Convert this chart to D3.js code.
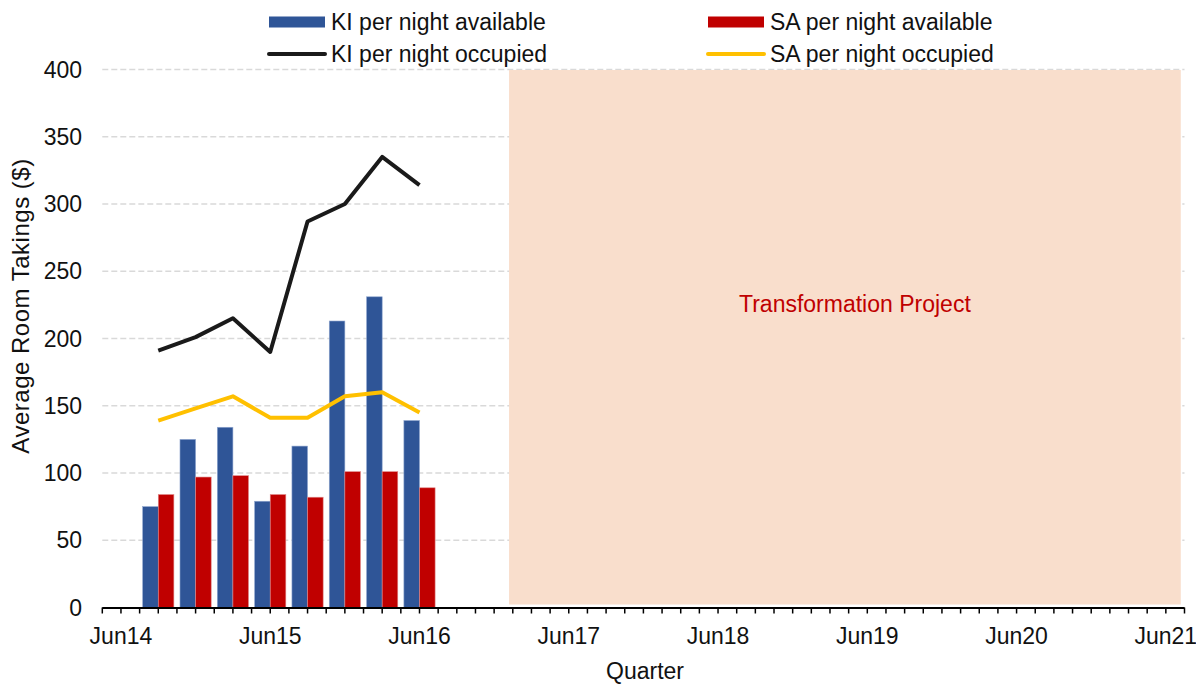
<!DOCTYPE html>
<html>
<head>
<meta charset="utf-8">
<script src="https://cdn.jsdelivr.net/npm/d3@7"></script>
<style>
  html, body { margin: 0; padding: 0; background: #fff; }
  svg { display: block; font-family: "Liberation Sans", Arial, sans-serif; }
</style>
</head>
<body>
<svg id="chart" width="1196" height="684"></svg>
<script>
// ---- data ----
const quarters = ["Sep14","Dec14","Mar15","Jun15","Sep15","Dec15","Mar16","Jun16"];
const quarterIndex = [1,2,3,4,5,6,7,8];           // quarters after Jun14
const kiAvailable = [75,125,134,79,120,213,231,139];
const saAvailable = [84,97,98,84,82,101,101,89];
const kiOccupied  = [191,201,215,190,287,300,335,314];
const saOccupied  = [139,148,157,141,141,157,160,145];
const tickLabels  = ["Jun14","Jun15","Jun16","Jun17","Jun18","Jun19","Jun20","Jun21"];
const tickIndex   = [0,4,8,12,16,20,24,28];
const yTicks      = [0,50,100,150,200,250,300,350,400];
const project     = { label: "Transformation Project", start: 10.4, end: 28.4, top: 400 };
const seriesNames = ["KI per night available","SA per night available","KI per night occupied","SA per night occupied"];
const colors = { ki: "#2F5597", sa: "#C00000", kiLine: "#1a1a1a", saLine: "#FFC000" };

const FS = 23;
const svg = d3.select("#chart");
const x = d3.scaleLinear().domain([-0.5, 28.5]).range([102.3, 1184.5]);
const y = d3.scaleLinear().domain([0, 400]).range([607.5, 69.5]);
const barW = 15.6;

// gridlines
svg.append("g").selectAll("line").data(yTicks.filter(d => d > 0)).join("line")
  .attr("x1", x(-0.5)).attr("x2", x(28.5))
  .attr("y1", d => y(d)).attr("y2", d => y(d))
  .attr("stroke", "#d9d9d9").attr("stroke-width", 1.3).attr("stroke-dasharray", "6,3");

// project shading
svg.append("rect")
  .attr("x", x(project.start)).attr("width", x(project.end) - x(project.start))
  .attr("y", y(project.top) + 0.5).attr("height", y(0) - y(project.top) - 3.5)
  .attr("fill", "#F9DECC");
svg.append("text")
  .attr("x", x((project.start + project.end) / 2) + 10).attr("y", y(226))
  .attr("text-anchor", "middle").attr("dominant-baseline", "central")
  .attr("font-size", FS).attr("fill", "#C00000").text(project.label);

// bars
const bars = svg.append("g");
bars.selectAll("rect.ki").data(kiAvailable).join("rect").attr("class", "ki")
  .attr("x", (d, i) => x(quarterIndex[i]) - barW).attr("width", barW)
  .attr("y", d => y(d)).attr("height", d => y(0) - y(d))
  .attr("fill", colors.ki).attr("stroke", "#8fa6cf").attr("stroke-width", 0.6);
bars.selectAll("rect.sa").data(saAvailable).join("rect").attr("class", "sa")
  .attr("x", (d, i) => x(quarterIndex[i])).attr("width", barW)
  .attr("y", d => y(d)).attr("height", d => y(0) - y(d))
  .attr("fill", colors.sa).attr("stroke", "#e08a8a").attr("stroke-width", 0.6);

// lines
const line = d3.line().x((d, i) => x(quarterIndex[i])).y(d => y(d));
svg.append("path").datum(saOccupied).attr("d", line)
  .attr("fill", "none").attr("stroke", colors.saLine).attr("stroke-width", 4).attr("stroke-linejoin", "round");
svg.append("path").datum(kiOccupied).attr("d", line)
  .attr("fill", "none").attr("stroke", colors.kiLine).attr("stroke-width", 4).attr("stroke-linejoin", "round");

// x axis
const xAxis = svg.append("g");
xAxis.append("line").attr("x1", x(-0.5)).attr("x2", x(28.5))
  .attr("y1", y(0) + 0.5).attr("y2", y(0) + 0.5).attr("stroke", "#000").attr("stroke-width", 2);
const minorTicks = d3.range(-0.5, 28.51, 0.5);
xAxis.selectAll("line.t").data(minorTicks).join("line").attr("class", "t")
  .attr("x1", d => x(d)).attr("x2", d => x(d))
  .attr("y1", y(0)).attr("y2", y(0) + 6).attr("stroke", "#000").attr("stroke-width", 1.5);
xAxis.selectAll("text").data(tickLabels).join("text")
  .attr("x", (d, i) => x(tickIndex[i])).attr("y", 644)
  .attr("text-anchor", "middle").attr("font-size", FS).attr("fill", "#111").text(d => d);

// y labels
svg.append("g").selectAll("text").data(yTicks).join("text")
  .attr("x", 82).attr("y", d => y(d)).attr("dominant-baseline", "central")
  .attr("text-anchor", "end").attr("font-size", FS).attr("fill", "#111").text(d => d);

// axis titles
svg.append("text").attr("transform", "translate(29,306) rotate(-90)")
  .attr("text-anchor", "middle").attr("font-size", 24).attr("letter-spacing", 0.5).attr("fill", "#111")
  .text("Average Room Takings ($)");
svg.append("text").attr("x", 645).attr("y", 679)
  .attr("text-anchor", "middle").attr("font-size", FS).attr("fill", "#111").text("Quarter");

// legend
const legend = svg.append("g");
const legItems = [
  { name: seriesNames[0], type: "bar", color: colors.ki, x: 269, y: 22 },
  { name: seriesNames[1], type: "bar", color: colors.sa, x: 708, y: 22 },
  { name: seriesNames[2], type: "line", color: colors.kiLine, x: 269, y: 54 },
  { name: seriesNames[3], type: "line", color: colors.saLine, x: 708, y: 54 }
];
legItems.forEach(it => {
  if (it.type === "bar") {
    legend.append("rect").attr("x", it.x).attr("y", it.y - 5.5).attr("width", 56).attr("height", 11).attr("fill", it.color);
  } else {
    legend.append("line").attr("x1", it.x).attr("x2", it.x + 56).attr("y1", it.y).attr("y2", it.y)
      .attr("stroke", it.color).attr("stroke-width", 4).attr("stroke-linecap", "round");
  }
  legend.append("text").attr("x", it.x + 62).attr("y", it.y).attr("dominant-baseline", "central")
    .attr("font-size", FS).attr("fill", "#111").text(it.name);
});
</script>
</body>
</html>
